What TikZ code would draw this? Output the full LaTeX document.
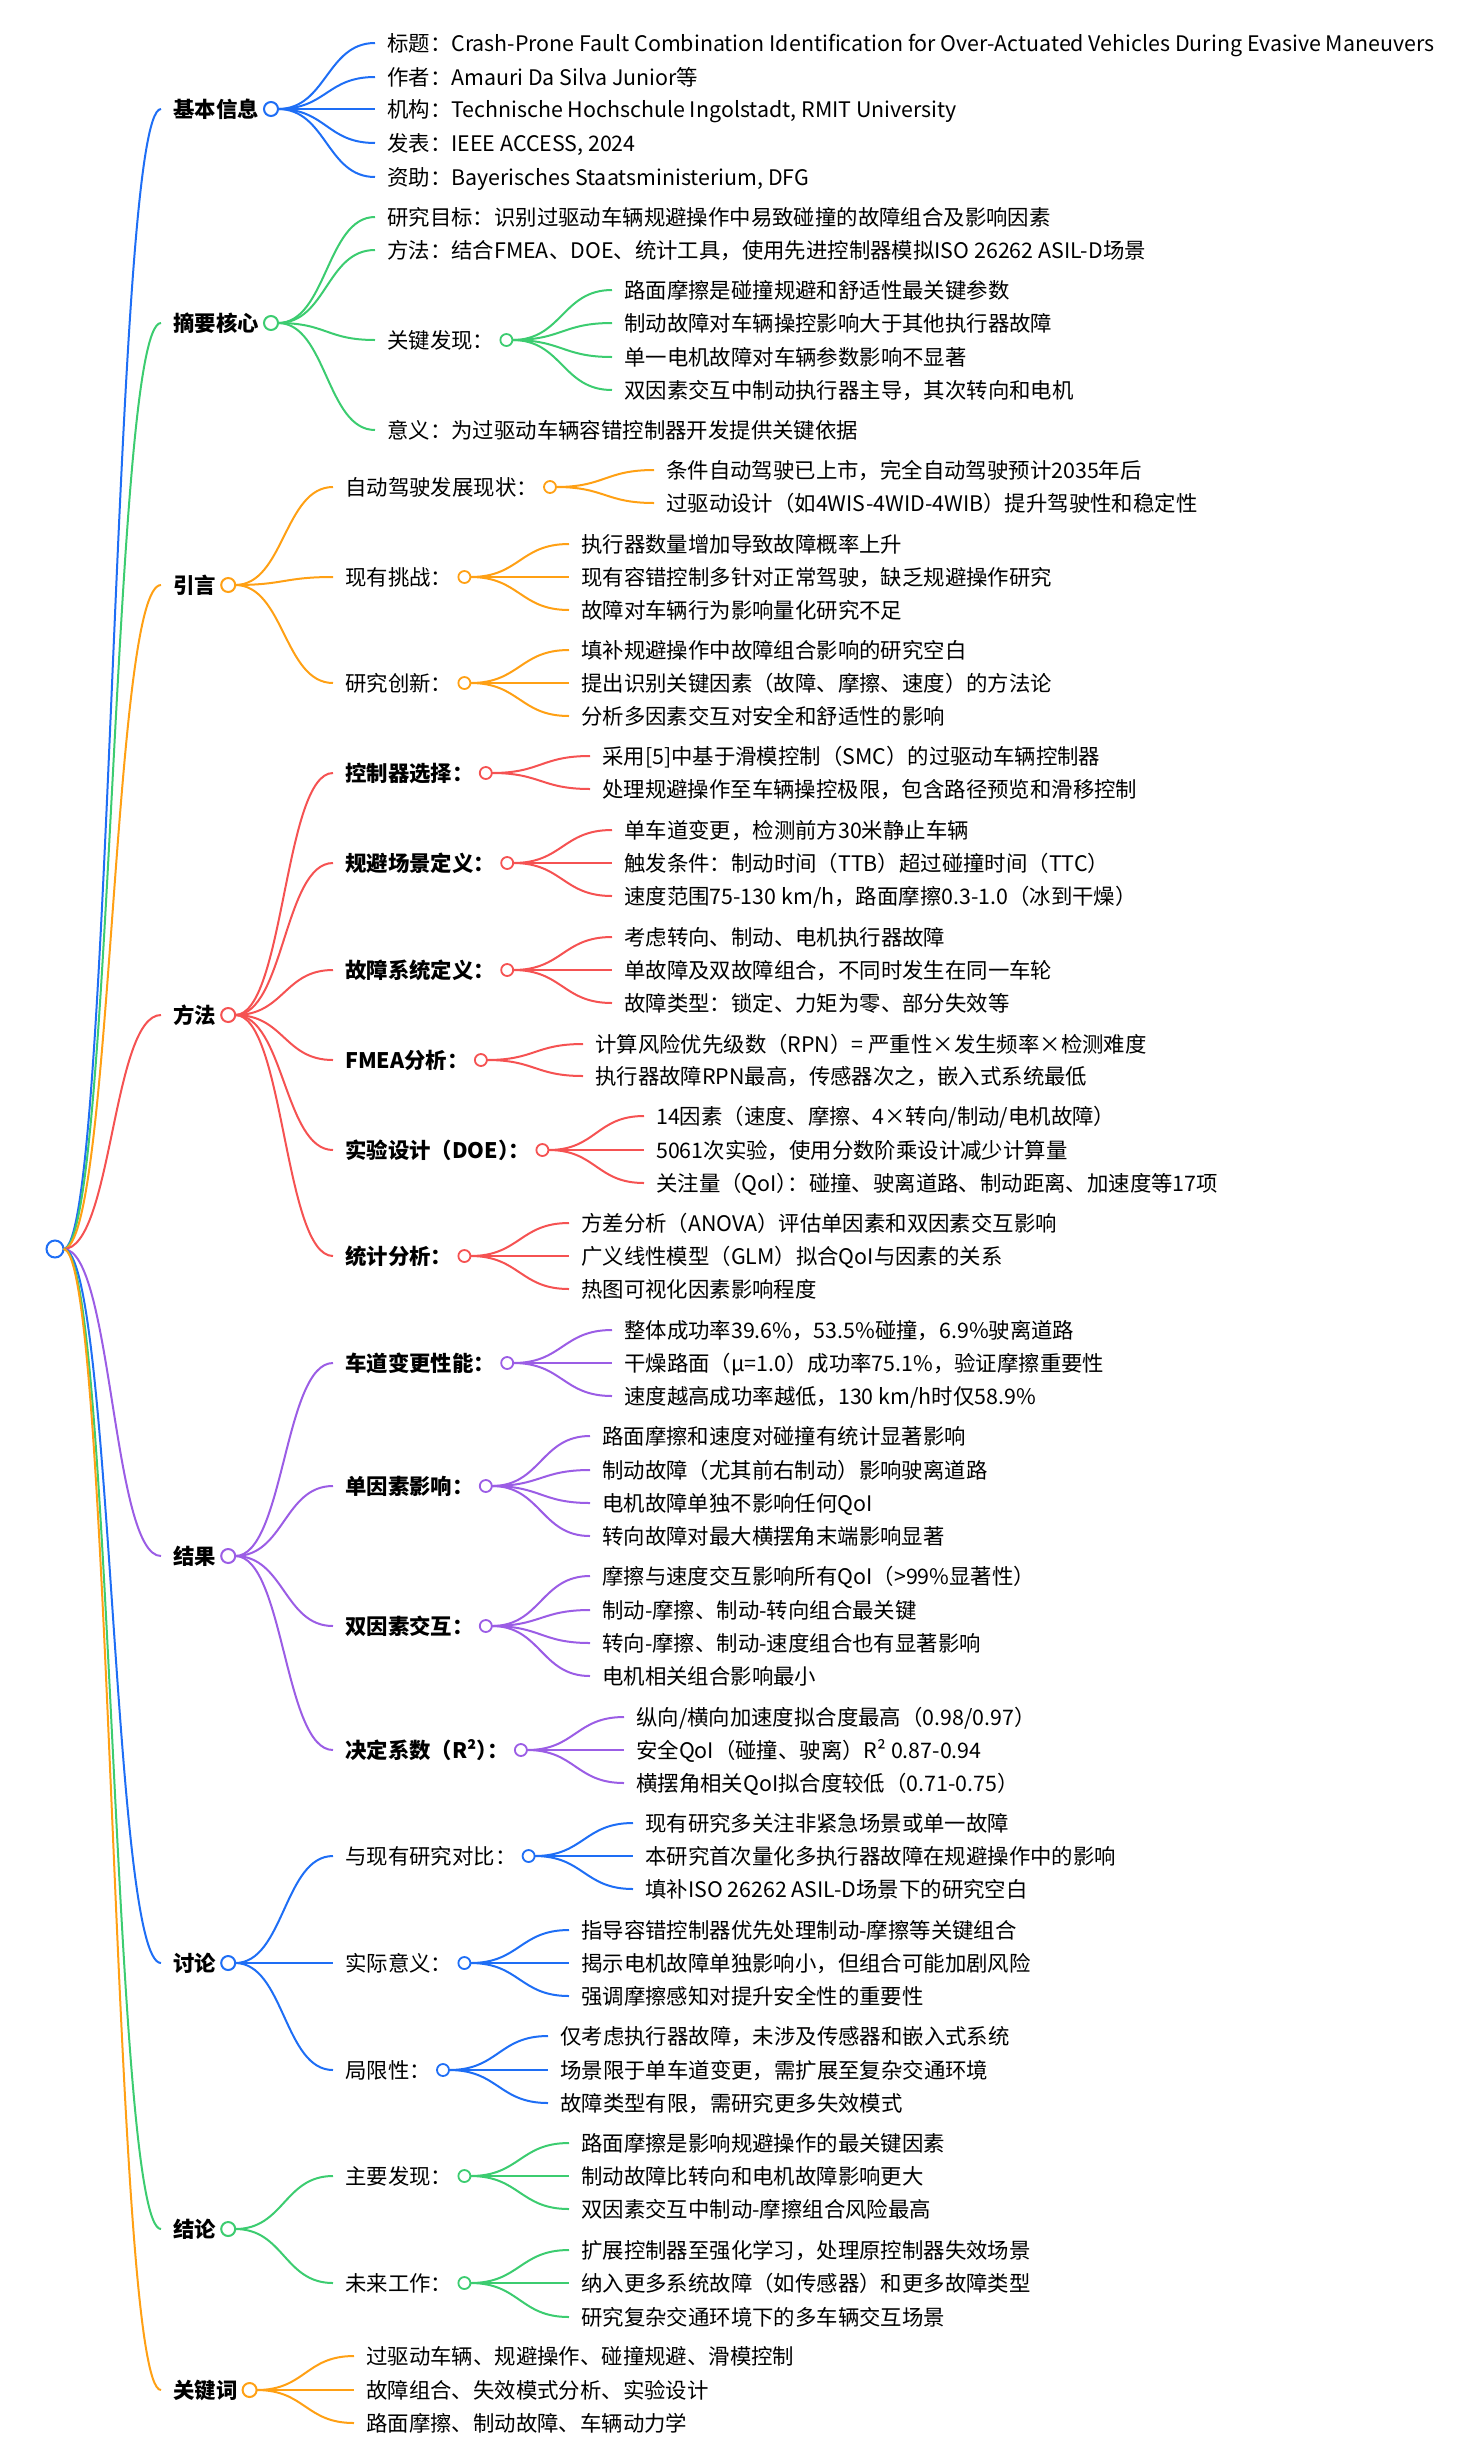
\documentclass[tikz,border=0pt]{standalone}
\usepackage{fontspec}
\setmainfont{Noto Sans CJK SC}
\usepackage{tikz}
\usetikzlibrary{calc}
\usepackage{xcolor}
\definecolor{mBlue}{RGB}{30,110,245}
\definecolor{mGreen}{RGB}{60,204,112}
\definecolor{mOrange}{RGB}{255,160,20}
\definecolor{mRed}{RGB}{245,82,82}
\definecolor{mPurple}{RGB}{155,93,229}
\newcommand{\mapfont}{\fontsize{21.4}{25}\selectfont}
\newcommand{\halfpunct}{\kern-0.5em}

\begin{document}
\begin{tikzpicture}[x=1pt,y=-1pt]
\tikzstyle{topic} = [anchor=west, text=black, font=\mapfont, inner xsep=12pt,
inner ysep=0pt, text height=18.6pt, text depth=2.6pt]
\tikzstyle{head} = [topic, font=\mapfont\bfseries]
\tikzstyle{dot} = [circle, fill=white, line width=2pt, minimum size=14pt,
inner sep=0pt, outer sep=0pt]
\tikzstyle{subdot} = [dot, line width=1.8pt, minimum size=12pt]
\tikzstyle{link} = [draw, line width=2pt, to path={let \p1=(\tikztostart), \p2=(\tikztotarget) in
.. controls ({(\x1+\x2)/2},\y1) and ({(\x1+\x2)/2},\y2) .. (\tikztotarget)}]
\useasboundingbox (0,0) rectangle (1469,2455);

\node [dot, draw=mBlue, minimum size=17pt] (root) at (55,1249) {};

% 基本信息
\node [head] (info) at (161,109) {基本信息};
\node [dot, draw=mBlue] (infoC) at (info.east) {};
\node [topic] (info1) at (375,43) {标题：Crash-Prone Fault Combination Identification for Over-Actuated Vehicles During Evasive Maneuvers};
\node [topic] (info2) at (375,77) {作者：Amauri Da Silva Junior等};
\node [topic] (info3) at (375,109) {机构：Technische Hochschule Ingolstadt, RMIT University};
\node [topic] (info4) at (375,143) {发表：IEEE ACCESS, 2024};
\node [topic] (info5) at (375,177) {资助：Bayerisches Staatsministerium, DFG};

% 摘要核心
\node [head] (abs) at (161,323) {摘要核心};
\node [dot, draw=mGreen] (absC) at (abs.east) {};
\node [topic] (abs1) at (375,217) {研究目标：识别过驱动车辆规避操作中易致碰撞的故障组合及影响因素};
\node [topic] (abs2) at (375,250) {方法：结合FMEA、DOE、统计工具，使用先进控制器模拟ISO 26262 ASIL-D场景};
\node [topic] (abs3) at (375,340) {关键发现：};
\node [subdot, draw=mGreen] (abs3C) at (abs3.east) {};
\node [topic] (abs31) at (612,290) {路面摩擦是碰撞规避和舒适性最关键参数};
\node [topic] (abs32) at (612,323) {制动故障对车辆操控影响大于其他执行器故障};
\node [topic] (abs33) at (612,357) {单一电机故障对车辆参数影响不显著};
\node [topic] (abs34) at (612,390) {双因素交互中制动执行器主导，其次转向和电机};
\node [topic] (abs4) at (375,430) {意义：为过驱动车辆容错控制器开发提供关键依据};

% 引言
\node [head] (intro) at (161,585) {引言};
\node [dot, draw=mOrange] (introC) at (intro.east) {};
\node [topic] (intro1) at (333,487) {自动驾驶发展现状：};
\node [subdot, draw=mOrange] (intro1C) at (intro1.east) {};
\node [topic] (intro11) at (654,470) {条件自动驾驶已上市，完全自动驾驶预计2035年后};
\node [topic] (intro12) at (654,503) {过驱动设计（如4WIS-4WID-4WIB）提升驾驶性和稳定性};
\node [topic] (intro2) at (333,577) {现有挑战：};
\node [subdot, draw=mOrange] (intro2C) at (intro2.east) {};
\node [topic] (intro21) at (569,544) {执行器数量增加导致故障概率上升};
\node [topic] (intro22) at (569,577) {现有容错控制多针对正常驾驶，缺乏规避操作研究};
\node [topic] (intro23) at (569,610) {故障对车辆行为影响量化研究不足};
\node [topic] (intro3) at (333,683) {研究创新：};
\node [subdot, draw=mOrange] (intro3C) at (intro3.east) {};
\node [topic] (intro31) at (569,650) {填补规避操作中故障组合影响的研究空白};
\node [topic] (intro32) at (569,683) {提出识别关键因素（故障、摩擦、速度）的方法论};
\node [topic] (intro33) at (569,716) {分析多因素交互对安全和舒适性的影响};

% 方法
\node [head] (meth) at (161,1015) {方法};
\node [dot, draw=mRed] (methC) at (meth.east) {};
\node [head] (meth1) at (333,773) {控制器选择：};
\node [subdot, draw=mRed] (meth1C) at (meth1.east) {};
\node [topic] (meth11) at (590,756) {采用[5]中基于滑模控制（SMC）的过驱动车辆控制器};
\node [topic] (meth12) at (590,789) {处理规避操作至车辆操控极限，包含路径预览和滑移控制};
\node [head] (meth2) at (333,863) {规避场景定义：};
\node [subdot, draw=mRed] (meth2C) at (meth2.east) {};
\node [topic] (meth21) at (612,830) {单车道变更，检测前方30米静止车辆};
\node [topic] (meth22) at (612,863) {触发条件：制动时间（TTB）超过碰撞时间（TTC）};
\node [topic] (meth23) at (612,896) {速度范围75-130 km/h，路面摩擦0.3-1.0（冰到干燥）};
\node [head] (meth3) at (333,970) {故障系统定义：};
\node [subdot, draw=mRed] (meth3C) at (meth3.east) {};
\node [topic] (meth31) at (612,937) {考虑转向、制动、电机执行器故障};
\node [topic] (meth32) at (612,970) {单故障及双故障组合，不同时发生在同一车轮};
\node [topic] (meth33) at (612,1003) {故障类型：锁定、力矩为零、部分失效等};
\node [head] (meth4) at (333,1060) {FMEA分析：};
\node [subdot, draw=mRed] (meth4C) at (meth4.east) {};
\node [topic] (meth41) at (583,1044) {计算风险优先级数（RPN）= 严重性×发生频率×检测难度};
\node [topic] (meth42) at (583,1076) {执行器故障RPN最高，传感器次之，嵌入式系统最低};
\node [head] (meth5) at (333,1150) {实验设计（DOE）\halfpunct：};
\node [subdot, draw=mRed] (meth5C) at (meth5.east) {};
\node [topic] (meth51) at (644,1116) {14因素（速度、摩擦、4×转向/制动/电机故障）};
\node [topic] (meth52) at (644,1150) {5061次实验，使用分数阶乘设计减少计算量};
\node [topic] (meth53) at (644,1183) {关注量（QoI）\halfpunct：碰撞、驶离道路、制动距离、加速度等17项};
\node [head] (meth6) at (333,1256) {统计分析：};
\node [subdot, draw=mRed] (meth6C) at (meth6.east) {};
\node [topic] (meth61) at (569,1223) {方差分析（ANOVA）评估单因素和双因素交互影响};
\node [topic] (meth62) at (569,1256) {广义线性模型（GLM）拟合QoI与因素的关系};
\node [topic] (meth63) at (569,1289) {热图可视化因素影响程度};

% 结果
\node [head] (res) at (161,1556) {结果};
\node [dot, draw=mPurple] (resC) at (res.east) {};
\node [head] (res1) at (333,1363) {车道变更性能：};
\node [subdot, draw=mPurple] (res1C) at (res1.east) {};
\node [topic] (res11) at (612,1330) {整体成功率39.6\%，53.5\%碰撞，6.9\%驶离道路};
\node [topic] (res12) at (612,1363) {干燥路面（μ=1.0）成功率75.1\%，验证摩擦重要性};
\node [topic] (res13) at (612,1396) {速度越高成功率越低，130 km/h时仅58.9\%};
\node [head] (res2) at (333,1486) {单因素影响：};
\node [subdot, draw=mPurple] (res2C) at (res2.east) {};
\node [topic] (res21) at (590,1436) {路面摩擦和速度对碰撞有统计显著影响};
\node [topic] (res22) at (590,1470) {制动故障（尤其前右制动）影响驶离道路};
\node [topic] (res23) at (590,1503) {电机故障单独不影响任何QoI};
\node [topic] (res24) at (590,1536) {转向故障对最大横摆角末端影响显著};
\node [head] (res3) at (333,1626) {双因素交互：};
\node [subdot, draw=mPurple] (res3C) at (res3.east) {};
\node [topic] (res31) at (590,1576) {摩擦与速度交互影响所有QoI（>99\%显著性）};
\node [topic] (res32) at (590,1610) {制动-摩擦、制动-转向组合最关键};
\node [topic] (res33) at (590,1643) {转向-摩擦、制动-速度组合也有显著影响};
\node [topic] (res34) at (590,1676) {电机相关组合影响最小};
\node [head] (res4) at (333,1750) {决定系数（R²）\halfpunct：};
\node [subdot, draw=mPurple] (res4C) at (res4.east) {};
\node [topic] (res41) at (624,1717) {纵向/横向加速度拟合度最高（0.98/0.97）};
\node [topic] (res42) at (624,1750) {安全QoI（碰撞、驶离）R² 0.87-0.94};
\node [topic] (res43) at (624,1783) {横摆角相关QoI拟合度较低（0.71-0.75）};

% 讨论
\node [head] (disc) at (161,1963) {讨论};
\node [dot, draw=mBlue] (discC) at (disc.east) {};
\node [topic] (disc1) at (333,1856) {与现有研究对比：};
\node [subdot, draw=mBlue] (disc1C) at (disc1.east) {};
\node [topic] (disc11) at (633,1823) {现有研究多关注非紧急场景或单一故障};
\node [topic] (disc12) at (633,1856) {本研究首次量化多执行器故障在规避操作中的影响};
\node [topic] (disc13) at (633,1889) {填补ISO 26262 ASIL-D场景下的研究空白};
\node [topic] (disc2) at (333,1963) {实际意义：};
\node [subdot, draw=mBlue] (disc2C) at (disc2.east) {};
\node [topic] (disc21) at (569,1930) {指导容错控制器优先处理制动-摩擦等关键组合};
\node [topic] (disc22) at (569,1963) {揭示电机故障单独影响小，但组合可能加剧风险};
\node [topic] (disc23) at (569,1996) {强调摩擦感知对提升安全性的重要性};
\node [topic] (disc3) at (333,2070) {局限性：};
\node [subdot, draw=mBlue] (disc3C) at (disc3.east) {};
\node [topic] (disc31) at (548,2036) {仅考虑执行器故障，未涉及传感器和嵌入式系统};
\node [topic] (disc32) at (548,2070) {场景限于单车道变更，需扩展至复杂交通环境};
\node [topic] (disc33) at (548,2103) {故障类型有限，需研究更多失效模式};

% 结论
\node [head] (conc) at (161,2229) {结论};
\node [dot, draw=mGreen] (concC) at (conc.east) {};
\node [topic] (conc1) at (333,2176) {主要发现：};
\node [subdot, draw=mGreen] (conc1C) at (conc1.east) {};
\node [topic] (conc11) at (569,2143) {路面摩擦是影响规避操作的最关键因素};
\node [topic] (conc12) at (569,2176) {制动故障比转向和电机故障影响更大};
\node [topic] (conc13) at (569,2209) {双因素交互中制动-摩擦组合风险最高};
\node [topic] (conc2) at (333,2283) {未来工作：};
\node [subdot, draw=mGreen] (conc2C) at (conc2.east) {};
\node [topic] (conc21) at (569,2250) {扩展控制器至强化学习，处理原控制器失效场景};
\node [topic] (conc22) at (569,2283) {纳入更多系统故障（如传感器）和更多故障类型};
\node [topic] (conc23) at (569,2317) {研究复杂交通环境下的多车辆交互场景};

% 关键词
\node [head] (kw) at (161,2390) {关键词};
\node [dot, draw=mOrange] (kwC) at (kw.east) {};
\node [topic] (kw1) at (354,2356) {过驱动车辆、规避操作、碰撞规避、滑模控制};
\node [topic] (kw2) at (354,2390) {故障组合、失效模式分析、实验设计};
\node [topic] (kw3) at (354,2423) {路面摩擦、制动故障、车辆动力学};

\tikzstyle{every path}=[link]
% root branches
\path [mBlue] (root.east) to (info.west);
\path [mGreen] (root.east) to (abs.west);
\path [mOrange] (root.east) to (intro.west);
\path [mRed] (root.east) to (meth.west);
\path [mPurple] (root.east) to (res.west);
\path [mBlue] (root.east) to (disc.west);
\path [mGreen] (root.east) to (conc.west);
\path [mOrange] (root.east) to (kw.west);
% 基本信息
\path [mBlue] (infoC.east) to (info1.west);
\path [mBlue] (infoC.east) to (info2.west);
\path [mBlue] (infoC.east) to (info3.west);
\path [mBlue] (infoC.east) to (info4.west);
\path [mBlue] (infoC.east) to (info5.west);
% 摘要核心
\path [mGreen] (absC.east) to (abs1.west);
\path [mGreen] (absC.east) to (abs2.west);
\path [mGreen] (absC.east) to (abs3.west);
\path [mGreen] (absC.east) to (abs4.west);
\path [mGreen] (abs3C.east) to (abs31.west);
\path [mGreen] (abs3C.east) to (abs32.west);
\path [mGreen] (abs3C.east) to (abs33.west);
\path [mGreen] (abs3C.east) to (abs34.west);
% 引言
\path [mOrange] (introC.east) to (intro1.west);
\path [mOrange] (introC.east) to (intro2.west);
\path [mOrange] (introC.east) to (intro3.west);
\path [mOrange] (intro1C.east) to (intro11.west);
\path [mOrange] (intro1C.east) to (intro12.west);
\path [mOrange] (intro2C.east) to (intro21.west);
\path [mOrange] (intro2C.east) to (intro22.west);
\path [mOrange] (intro2C.east) to (intro23.west);
\path [mOrange] (intro3C.east) to (intro31.west);
\path [mOrange] (intro3C.east) to (intro32.west);
\path [mOrange] (intro3C.east) to (intro33.west);
% 方法
\path [mRed] (methC.east) to (meth1.west);
\path [mRed] (methC.east) to (meth2.west);
\path [mRed] (methC.east) to (meth3.west);
\path [mRed] (methC.east) to (meth4.west);
\path [mRed] (methC.east) to (meth5.west);
\path [mRed] (methC.east) to (meth6.west);
\path [mRed] (meth1C.east) to (meth11.west);
\path [mRed] (meth1C.east) to (meth12.west);
\path [mRed] (meth2C.east) to (meth21.west);
\path [mRed] (meth2C.east) to (meth22.west);
\path [mRed] (meth2C.east) to (meth23.west);
\path [mRed] (meth3C.east) to (meth31.west);
\path [mRed] (meth3C.east) to (meth32.west);
\path [mRed] (meth3C.east) to (meth33.west);
\path [mRed] (meth4C.east) to (meth41.west);
\path [mRed] (meth4C.east) to (meth42.west);
\path [mRed] (meth5C.east) to (meth51.west);
\path [mRed] (meth5C.east) to (meth52.west);
\path [mRed] (meth5C.east) to (meth53.west);
\path [mRed] (meth6C.east) to (meth61.west);
\path [mRed] (meth6C.east) to (meth62.west);
\path [mRed] (meth6C.east) to (meth63.west);
% 结果
\path [mPurple] (resC.east) to (res1.west);
\path [mPurple] (resC.east) to (res2.west);
\path [mPurple] (resC.east) to (res3.west);
\path [mPurple] (resC.east) to (res4.west);
\path [mPurple] (res1C.east) to (res11.west);
\path [mPurple] (res1C.east) to (res12.west);
\path [mPurple] (res1C.east) to (res13.west);
\path [mPurple] (res2C.east) to (res21.west);
\path [mPurple] (res2C.east) to (res22.west);
\path [mPurple] (res2C.east) to (res23.west);
\path [mPurple] (res2C.east) to (res24.west);
\path [mPurple] (res3C.east) to (res31.west);
\path [mPurple] (res3C.east) to (res32.west);
\path [mPurple] (res3C.east) to (res33.west);
\path [mPurple] (res3C.east) to (res34.west);
\path [mPurple] (res4C.east) to (res41.west);
\path [mPurple] (res4C.east) to (res42.west);
\path [mPurple] (res4C.east) to (res43.west);
% 讨论
\path [mBlue] (discC.east) to (disc1.west);
\path [mBlue] (discC.east) to (disc2.west);
\path [mBlue] (discC.east) to (disc3.west);
\path [mBlue] (disc1C.east) to (disc11.west);
\path [mBlue] (disc1C.east) to (disc12.west);
\path [mBlue] (disc1C.east) to (disc13.west);
\path [mBlue] (disc2C.east) to (disc21.west);
\path [mBlue] (disc2C.east) to (disc22.west);
\path [mBlue] (disc2C.east) to (disc23.west);
\path [mBlue] (disc3C.east) to (disc31.west);
\path [mBlue] (disc3C.east) to (disc32.west);
\path [mBlue] (disc3C.east) to (disc33.west);
% 结论
\path [mGreen] (concC.east) to (conc1.west);
\path [mGreen] (concC.east) to (conc2.west);
\path [mGreen] (conc1C.east) to (conc11.west);
\path [mGreen] (conc1C.east) to (conc12.west);
\path [mGreen] (conc1C.east) to (conc13.west);
\path [mGreen] (conc2C.east) to (conc21.west);
\path [mGreen] (conc2C.east) to (conc22.west);
\path [mGreen] (conc2C.east) to (conc23.west);
% 关键词
\path [mOrange] (kwC.east) to (kw1.west);
\path [mOrange] (kwC.east) to (kw2.west);
\path [mOrange] (kwC.east) to (kw3.west);
\end{tikzpicture}
\end{document}
